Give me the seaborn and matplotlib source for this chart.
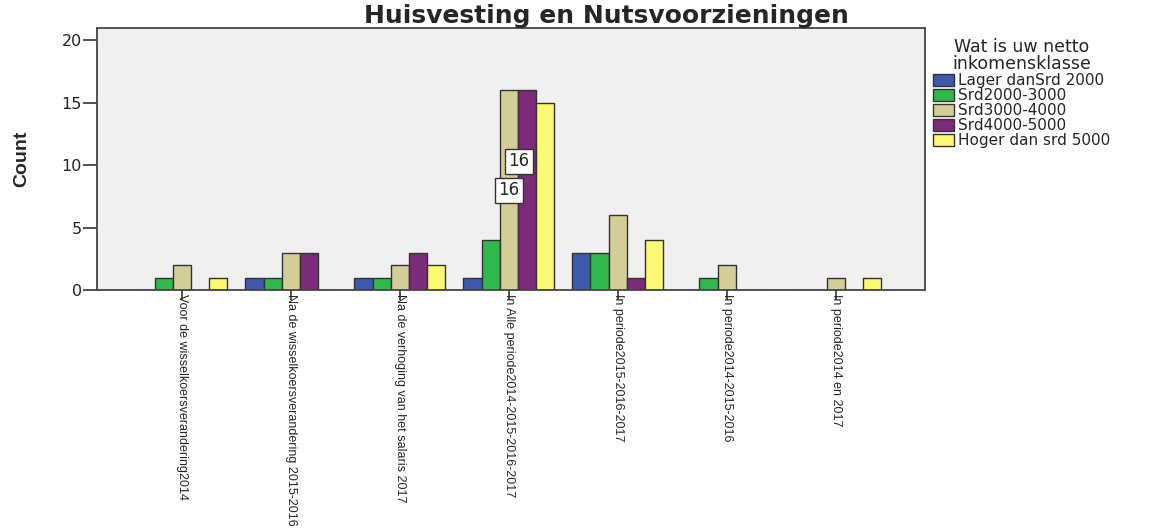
import numpy as np
import pandas as pd
import matplotlib
matplotlib.use("Agg")
import matplotlib.pyplot as plt
import seaborn as sns

# Categorieën op de x-as
perioden = [
    "Voor de wisselkoersverandering2014",
    "Na de wisselkoersverandering 2015-2016",
    "Na de verhoging van het salaris 2017",
    "In Alle periode2014-2015-2016-2017",
    "In periode2015-2016-2017",
    "In periode2014-2015-2016",
    "In periode2014 en 2017",
]

# Inkomensklassen (legenda)
klassen = ["Lager danSrd 2000", "Srd2000-3000", "Srd3000-4000", "Srd4000-5000", "Hoger dan srd 5000"]

# Aantallen per klasse, in volgorde van de perioden
lager = [0, 1, 1, 1, 3, 0, 0]
srd2000 = [1, 1, 1, 4, 3, 1, 0]
srd3000 = [2, 3, 2, 16, 6, 2, 1]
srd4000 = [0, 3, 3, 16, 1, 0, 0]
hoger = [1, 0, 2, 15, 4, 0, 1]

kleuren = ["#3e58ac", "#2fb94b", "#d3cd97", "#7c2a7c", "#fbf872"]

rijen = []
for klasse, waarden in zip(klassen, [lager, srd2000, srd3000, srd4000, hoger]):
    for periode, w in zip(perioden, waarden):
        rijen.append({"Periode": periode, "Klasse": klasse, "Count": w})
df = pd.DataFrame(rijen)

sns.set_style("white")
plt.rcParams["font.family"] = ["DejaVu Sans"]

fig = plt.figure(figsize=(11.55, 5.29), dpi=100)
ax = fig.add_axes([97 / 1155, 1 - 290 / 529, 828 / 1155, 262 / 529])
ax.set_facecolor("#f0f0f0")

sns.barplot(data=df, x="Periode", y="Count", hue="Klasse", order=perioden,
            hue_order=klassen, palette=kleuren, saturation=1, width=0.835, gap=0,
            edgecolor="#333333", linewidth=1.0, ax=ax)

ax.set_xlim(-0.78, 6.82)
ax.set_ylim(0, 21)
ax.set_yticks([0, 5, 10, 15, 20])
ax.tick_params(axis="y", labelsize=11.5, length=10, width=1.2, color="#333333",
               direction="out", left=True, pad=1, labelcolor="#222222")
ax.tick_params(axis="x", length=7, width=1.2, color="#333333", direction="out",
               bottom=True, pad=-4)
ax.set_xticks(range(len(perioden)))
ax.set_xticklabels(perioden, rotation=270, fontsize=9,
                   family=["Liberation Sans"], rotation_mode="anchor")
for lbl in ax.get_xticklabels():
    lbl.set_horizontalalignment("left")
    lbl.set_verticalalignment("center")

for s in ax.spines.values():
    s.set_color("#444444")
    s.set_linewidth(1.3)

ax.set_xlabel("")
ax.set_ylabel("Count", fontsize=14, fontweight="bold", family=["Liberation Sans"])
ax.yaxis.set_label_coords(-0.081, 0.5)

# Datalabels zoals in SPSS
idx = perioden.index("In Alle periode2014-2015-2016-2017")
bw = 0.835 / 5
for k, (waarden, yy, dx) in enumerate([(srd3000, 8.0, 0.0), (srd4000, 10.3, -0.45)]):
    xpos = idx + (-0.835 / 2 + bw * (2 + k) + bw / 2) + dx * bw
    ax.text(xpos, yy, str(waarden[idx]), ha="center", va="center", fontsize=12,
            bbox=dict(boxstyle="square,pad=0.2", fc="white", ec="#333333", lw=1))

fig.suptitle("Huisvesting en Nutsvoorzieningen", x=0.525, y=0.993, fontsize=18, fontweight="bold")

leg = ax.legend(title="Wat is uw netto\ninkomensklasse", loc="upper left",
                bbox_to_anchor=(0.998, 0.995), frameon=False, fontsize=11,
                title_fontsize=12.5, handlelength=1.4, handleheight=0.85,
                handletextpad=0.3, labelspacing=0.0, borderaxespad=0.2)
leg.get_title().set_multialignment("center")
leg.get_title().set_linespacing(0.9)
for h in leg.legend_handles:
    h.set_edgecolor("#333333")

fig.savefig("out.png", dpi=100, facecolor="white")
